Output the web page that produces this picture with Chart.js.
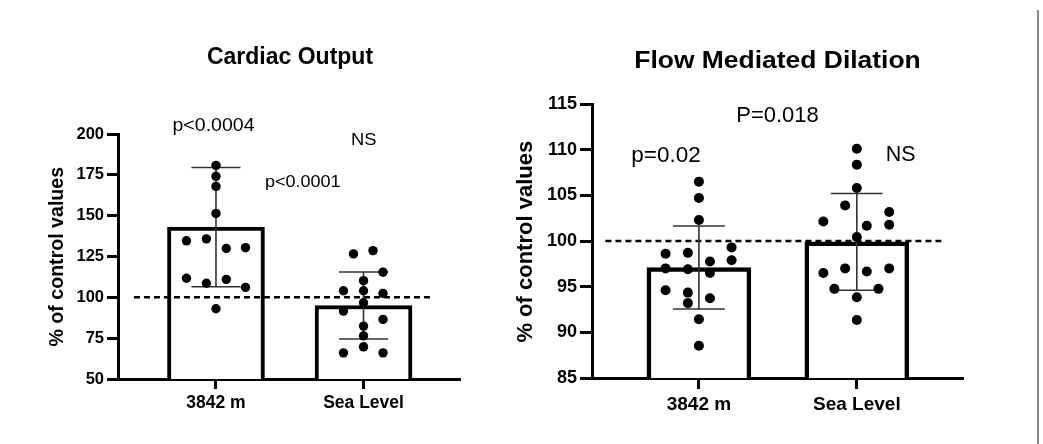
<!DOCTYPE html>
<html>
<head>
<meta charset="utf-8">
<title>Cardiac Output / Flow Mediated Dilation</title>
<script src="https://cdn.jsdelivr.net/npm/chart.js@4.4.1/dist/chart.umd.min.js"></script>
<style>
  body { margin: 0; background: #fff; }
  #wrap { position: relative; width: 1043px; height: 444px; overflow: hidden; background: #fff; }
  canvas { position: absolute; top: 0; }
  #co { left: 0; }
  #fmd { left: 500px; }
  .edge { position: absolute; left: 1037px; top: 10px; width: 2px; height: 434px; background: #888; }
</style>
</head>
<body>
<div id="wrap">
  <canvas id="co" width="500" height="444"></canvas>
  <canvas id="fmd" width="543" height="444"></canvas>
  <div class="edge"></div>
</div>
<script>
const categories = ['3842 m', 'Sea Level'];
const controlLevel = 100;

// Cardiac output, % of control values
const coMean = [143, 95];
const coSD = [36.5, 20.5];
const coAltitude = [180.8, 174.1, 167.9, 151.4, 134.6, 135.8, 129.9, 130.4, 111.7, 108.6, 111.0, 106.1, 93.0];
const coAltitudeJitter = [0, 0, 0, 0, -0.2, -0.065, 0.07, 0.2, -0.2, -0.065, 0.07, 0.2, 0];
const coSeaLevel = [126.6, 128.6, 115.4, 110.2, 104, 104, 102.4, 96.7, 91.6, 86.5, 82.4, 76.4, 69.7, 66, 66];
const coSeaLevelJitter = [-0.068, 0.064, 0.132, 0, -0.136, 0, 0.132, 0, -0.136, 0.132, 0, 0, 0, -0.136, 0.132];
const coTicks = [50, 75, 100, 125, 150, 175, 200];

// Flow mediated dilation, % of control values
const fmdMean = [97.1, 99.9];
const fmdSD = [4.55, 5.3];
const fmdAltitude = [106.5, 104.7, 102.3, 98.6, 98.7, 99.3, 97.75, 97.9, 97.0, 96.9, 96.5, 94.6, 94.35, 93.74, 93.2, 91.44, 88.54];
const fmdAltitudeJitter = [0, 0, 0, -0.211, -0.07, 0.207, 0.07, 0.207, -0.211, -0.07, 0.07, -0.211, -0.07, 0.07, -0.07, 0, 0];
const fmdSeaLevel = [110.1, 108.36, 105.8, 103.9, 102.14, 103.17, 101.67, 101.78, 100.43, 97.0, 96.66, 97.0, 96.5, 94.76, 94.76, 93.85, 91.36];
const fmdSeaLevelJitter = [0, 0, 0, -0.074, -0.212, 0.205, 0.063, 0.205, 0, -0.074, 0.063, 0.205, -0.212, -0.142, 0.137, 0, 0];
const fmdTicks = [85, 90, 95, 100, 105, 110, 115];

const ARIAL = '"Liberation Sans", Arial, Helvetica, sans-serif';

// mean +/- SD whiskers, drawn just before the dots
const errorBars = {
  id: 'errorBars',
  beforeDatasetDraw(chart, args, opts) {
    if (chart.data.datasets[args.index].type !== 'scatter') return;
    const { ctx, scales: { x, y } } = chart;
    ctx.save();
    ctx.strokeStyle = opts.color;
    ctx.lineWidth = opts.width;
    opts.mean.forEach((m, i) => {
      const px = x.getPixelForValue(i + 1);
      const top = y.getPixelForValue(m + opts.sd[i]);
      const bot = y.getPixelForValue(m - opts.sd[i]);
      ctx.beginPath();
      ctx.moveTo(px, top); ctx.lineTo(px, bot);
      ctx.moveTo(px - opts.cap, top); ctx.lineTo(px + opts.cap, top);
      ctx.moveTo(px - opts.cap, bot); ctx.lineTo(px + opts.cap, bot);
      ctx.stroke();
    });
    ctx.restore();
  }
};

// titles, axis title and p-value notes
const notes = {
  id: 'notes',
  afterDraw(chart, args, opts) {
    const ctx = chart.ctx;
    ctx.save();
    ctx.fillStyle = '#000';
    ctx.textAlign = 'center';
    ctx.textBaseline = 'alphabetic';
    opts.items.forEach(t => {
      ctx.save();
      ctx.font = t.font;
      ctx.translate(t.x, t.y);
      if (t.rotate) ctx.rotate(t.rotate);
      if (t.stretch) ctx.scale(t.stretch, 1);
      ctx.fillText(t.text, 0, 0);
      ctx.restore();
    });
    ctx.restore();
  }
};

function buildChart(id, o) {
  const points = [];
  o.groups.forEach((g, i) => {
    g.values.forEach((v, k) => points.push({ x: i + 1 + g.jitter[k], y: v }));
  });

  return new Chart(document.getElementById(id), {
    type: 'bar',
    data: {
      datasets: [
        {
          type: 'scatter',
          data: points,
          pointRadius: o.dot,
          pointBackgroundColor: '#000',
          pointBorderWidth: 0,
          order: 0
        },
        {
          type: 'line',
          data: [{ x: o.refFrom, y: controlLevel }, { x: o.refTo, y: controlLevel }],
          borderColor: '#000',
          borderWidth: 2.5,
          borderDash: [6, 4],
          pointRadius: 0,
          order: 1
        },
        {
          type: 'bar',
          data: o.mean.map((m, i) => ({ x: i + 1, y: m })),
          backgroundColor: '#fff',
          borderColor: '#000',
          borderWidth: o.barBorder,
          barThickness: o.barWidth,
          borderSkipped: 'start',
          order: 2
        }
      ]
    },
    options: {
      responsive: false,
      animation: false,
      events: [],
      layout: { padding: { left: 0, right: o.padRight, top: o.padTop, bottom: 0 } },
      plugins: {
        legend: { display: false },
        tooltip: { enabled: false },
        errorBars: { mean: o.mean, sd: o.sd, cap: o.cap, color: '#333', width: 1.6 },
        notes: { items: o.notes }
      },
      scales: {
        x: {
          type: 'linear',
          min: o.xMin,
          max: o.xMax,
          offset: false,
          afterBuildTicks: s => { s.ticks = categories.map((c, i) => ({ value: i + 1 })); },
          afterFit: s => { s.height = o.xHeight; },
          ticks: {
            callback: v => categories[v - 1],
            font: { family: ARIAL, size: o.xFont, weight: 'bold' },
            color: '#000',
            padding: o.xPad,
            maxRotation: 0,
            autoSkip: false
          },
          grid: { offset: false, drawOnChartArea: false, tickLength: o.xTick, lineWidth: 3, color: '#000' },
          border: { color: '#000', width: 3 }
        },
        y: {
          min: o.yTicks[0],
          max: o.yTicks[o.yTicks.length - 1],
          afterBuildTicks: s => { s.ticks = o.yTicks.map(v => ({ value: v })); },
          afterFit: s => { s.width = o.yWidth; },
          ticks: {
            font: { family: ARIAL, size: o.yFont, weight: 'bold' },
            color: '#000',
            padding: 3
          },
          grid: { drawOnChartArea: false, tickLength: o.yTick, lineWidth: 3, color: '#000' },
          border: { color: '#000', width: 3 }
        }
      }
    },
    plugins: [errorBars, notes]
  });
}

buildChart('co', {
  groups: [
    { values: coAltitude, jitter: coAltitudeJitter },
    { values: coSeaLevel, jitter: coSeaLevelJitter }
  ],
  mean: coMean, sd: coSD, yTicks: coTicks,
  xMin: 0.336, xMax: 2.647, refFrom: 0.444, refTo: 2.471,
  padTop: 134, padRight: 41, yWidth: 118, xHeight: 65,
  barWidth: 97, barBorder: 4, dot: 4.7, cap: 24.5,
  yFont: 16.5, xFont: 17.5, yTick: 11, xTick: 10, xPad: 4,
  notes: [
    { text: 'Cardiac Output', x: 290, y: 64, font: 'bold 23px ' + ARIAL },
    { text: '% of control values', x: 62.5, y: 256.7, rotate: -Math.PI / 2, font: 'bold 19.6px ' + ARIAL },
    { text: 'p<0.0004', x: 213.5, y: 130.7, stretch: 1.05, font: '18.6px ' + ARIAL },
    { text: 'NS', x: 363.8, y: 145, stretch: 1.08, font: '17px ' + ARIAL },
    { text: 'p<0.0001', x: 302.8, y: 186.7, stretch: 1.06, font: '17px ' + ARIAL }
  ]
});

buildChart('fmd', {
  groups: [
    { values: fmdAltitude, jitter: fmdAltitudeJitter },
    { values: fmdSeaLevel, jitter: fmdSeaLevelJitter }
  ],
  mean: fmdMean, sd: fmdSD, yTicks: fmdTicks,
  xMin: 0.323, xMax: 2.666, refFrom: 0.408, refTo: 2.549,
  padTop: 104, padRight: 81, yWidth: 92, xHeight: 66,
  barWidth: 104, barBorder: 4.5, dot: 5, cap: 26,
  yFont: 18, xFont: 19, yTick: 12, xTick: 11, xPad: 4,
  notes: [
    { text: 'Flow Mediated Dilation', x: 277.5, y: 67.7, stretch: 1.15, font: 'bold 23px ' + ARIAL },
    { text: '% of control values', x: 31.7, y: 241.7, rotate: -Math.PI / 2, font: 'bold 22px ' + ARIAL },
    { text: 'P=0.018', x: 277.5, y: 121.7, font: '22px ' + ARIAL },
    { text: 'p=0.02', x: 166, y: 161.7, font: '22.5px ' + ARIAL },
    { text: 'NS', x: 400.7, y: 161, font: '21.5px ' + ARIAL }
  ]
});
</script>
</body>
</html>
